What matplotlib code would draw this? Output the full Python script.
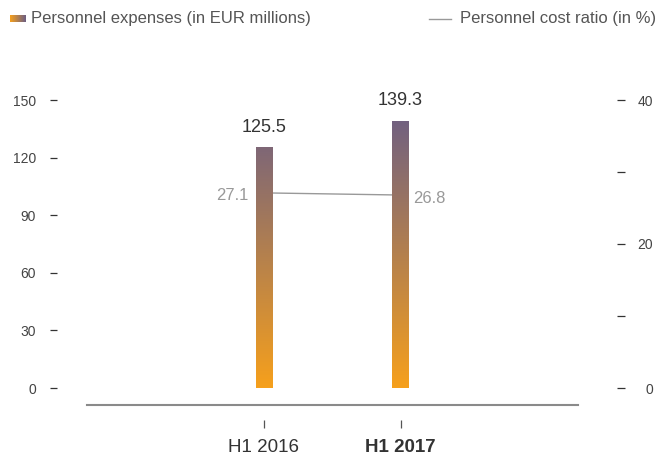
import numpy as np
import matplotlib.pyplot as plt
from matplotlib.colors import LinearSegmentedColormap
from matplotlib.lines import Line2D

plt.rcParams['font.family'] = ['Liberation Sans', 'DejaVu Sans']

periods = ['H1 2016', 'H1 2017']
expenses = [125.5, 139.3]       # EUR millions
cost_ratio = [27.1, 26.8]       # percent

W, H = 656, 455
fig = plt.figure(figsize=(W / 100, H / 100), dpi=100)

def fx(px):
    return px / W

def fy(py):
    return 1 - py / H

orange = '#F6A01C'
purple = '#6C5E84'
cmap = LinearSegmentedColormap.from_list('exp', [orange, purple])

# main axes
ax = fig.add_axes([fx(87), fy(405), fx(578) - fx(87), fy(60) - fy(405)])
px_per_unit = (388 - 100) / 150
ylo = -(405 - 388) / px_per_unit
yhi = (388 - 60) / px_per_unit
x = np.arange(len(periods))
xs = 136.5
bw = 17 / xs

grad = np.linspace(0, 1, 256).reshape(-1, 1)
for xi, v in zip(x, expenses):
    bars = ax.bar(xi, v, width=bw, color='none', edgecolor='none')
    im = ax.imshow(grad, cmap=cmap, origin='lower', aspect='auto',
                   extent=[xi - bw / 2, xi + bw / 2, 0, 145], zorder=2)
    im.set_clip_path(bars[0])
    ax.text(xi, v + 6, f'{v:.1f}', ha='center', va='bottom', fontsize=13, color='#333333')
ax.set_xlim((87 - 264) / xs, (578 - 264) / xs)
ax.set_ylim(ylo, yhi)

for s in ['top', 'right']:
    ax.spines[s].set_visible(False)
ax.spines['left'].set_position(('outward', 30 * 0.72))
ax.spines['left'].set_color('none')
ax.spines['bottom'].set_position(('outward', 15 * 0.72))
ax.spines['bottom'].set_color('none')
ax.axhline(ylo, color='#8a8a8a', lw=1.5, clip_on=False, zorder=5)

ax.set_yticks([0, 30, 60, 90, 120, 150])
ax.tick_params(axis='y', direction='out', length=5, width=0.9, color='#333333',
               labelsize=10, labelcolor='#444444', pad=10)
ax.set_xticks(x)
ax.set_xticklabels(periods)
ax.tick_params(axis='x', direction='out', length=5.5, width=0.9, color='#555555',
               labelsize=13.5, labelcolor='#333333', pad=8)
ax.get_xticklabels()[1].set_fontweight('bold')

# ratio on secondary axis, kept behind the bars
ax2 = ax.twinx()
ax.set_zorder(ax2.get_zorder() + 1)
ax.patch.set_visible(False)
scale = 40 / 150
ax2.set_ylim(ylo * scale, yhi * scale)
ax2.plot(x, cost_ratio, color='#999999', lw=1, zorder=3)
ax2.text(x[0] - 0.11, cost_ratio[0] - 0.3, f'{cost_ratio[0]:.1f}', ha='right', va='center',
         fontsize=12, color='#999999')
ax2.text(x[1] + 0.09, cost_ratio[1] - 0.5, f'{cost_ratio[1]:.1f}', ha='left', va='center',
         fontsize=12, color='#999999')
for s in ['top', 'left', 'bottom']:
    ax2.spines[s].set_visible(False)
ax2.spines['right'].set_position(('outward', 39 * 0.72))
ax2.spines['right'].set_color('none')
ax2.set_yticks([0, 10, 20, 30, 40])
ax2.set_yticklabels(['0', '', '20', '', '40'])
ax2.tick_params(axis='y', direction='out', length=6, width=0.9, color='#333333',
                labelsize=10, labelcolor='#444444', pad=20)
for lab in ax2.get_yticklabels():
    lab.set_horizontalalignment('right')

# legend
lax = fig.add_axes([fx(10), fy(22), fx(26) - fx(10), fy(15) - fy(22)])
lax.imshow(grad.T, cmap=cmap, aspect='auto')
lax.axis('off')
fig.text(fx(31), fy(18.5), 'Personnel expenses (in EUR millions)', ha='left', va='center',
         fontsize=12, color='#555555')
fig.add_artist(Line2D([fx(429), fx(451)], [fy(19), fy(19)], color='#999999', lw=1))
fig.text(fx(460), fy(18.5), 'Personnel cost ratio (in %)', ha='left', va='center',
         fontsize=12, color='#555555')

fig.savefig('out.png', dpi=100)
